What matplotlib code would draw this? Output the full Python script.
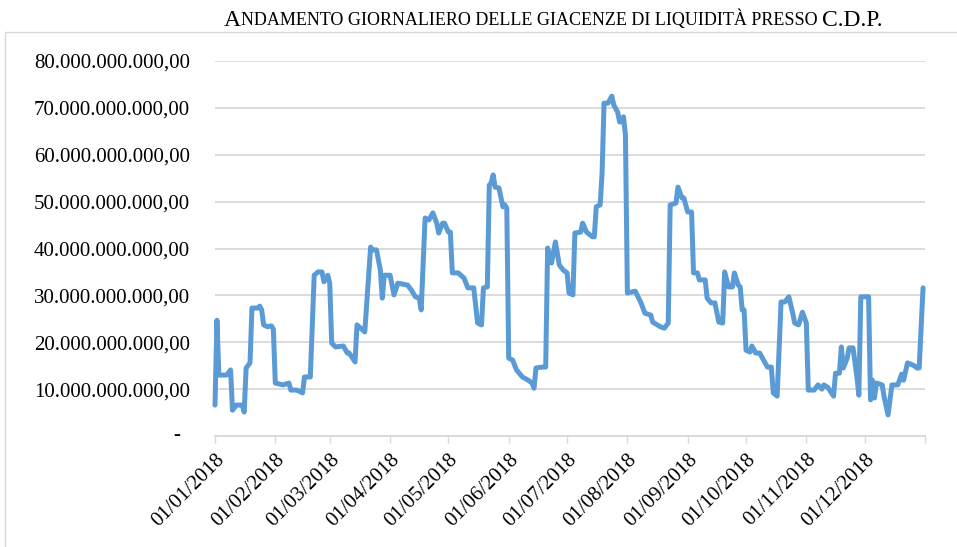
import numpy as np
import pandas as pd
import matplotlib
matplotlib.use("Agg")
import matplotlib.pyplot as plt
from matplotlib.patches import Rectangle
from matplotlib.offsetbox import TextArea, HPacker, AnnotationBbox
from matplotlib.ticker import FuncFormatter
from matplotlib.transforms import ScaledTranslation

# giorni dall'inizio del 2018 e giacenze in miliardi di euro
giorni = [0, 1, 2, 6, 8, 9, 11, 14, 15, 16, 18, 19, 22, 23, 24, 25, 27, 29, 30, 31,
          35, 38, 39, 42, 45, 46, 49, 51, 53, 55, 56, 58, 59, 60, 62, 66, 68, 69, 72, 73,
          76, 77, 80, 81, 83, 85, 86, 87, 90, 92, 94, 99, 101, 103, 105, 106, 108, 110, 112, 114,
          115, 117, 118, 120, 121, 122, 125, 128, 130, 133, 135, 137, 138, 140, 141, 142, 143, 144, 146, 148,
          149, 150, 151, 153, 155, 158, 161, 163, 164, 165, 168, 170, 171, 173, 175, 177, 179, 181, 182, 184,
          185, 188, 189, 191, 194, 195, 196, 198, 199, 200, 202, 204, 205, 207, 208, 209, 210, 211, 212, 216,
          217, 219, 221, 224, 225, 229, 231, 233, 234, 237, 238, 240, 241, 243, 245, 246, 248, 249, 252, 253,
          255, 257, 259, 261, 262, 264, 266, 267, 269, 270, 271, 272, 273, 275, 276, 278, 280, 282, 284, 286,
          287, 289, 291, 293, 295, 297, 298, 300, 302, 304, 305, 308, 310, 312, 313, 315, 318, 319, 321, 322,
          323, 325, 326, 328, 330, 331, 332, 336, 337, 338, 339, 340, 343, 344, 346, 348, 351, 353, 354, 356,
          359, 361, 362, 364]
giacenze_mld = [6.6, 24.7, 13.0, 13.0, 14.1, 5.5, 6.6, 6.6, 5.1, 14.5, 15.6, 27.3, 27.3, 27.7, 26.9, 23.7, 23.3, 23.5, 22.8, 11.3,
                10.9, 11.3, 9.8, 9.8, 9.2, 12.6, 12.6, 34.3, 35.0, 35.0, 32.9, 34.3, 32.5, 19.8, 19.0, 19.2, 17.7, 17.7, 15.8, 23.7,
                22.6, 22.2, 40.3, 39.7, 39.7, 35.4, 29.4, 34.3, 34.3, 30.1, 32.6, 32.2, 31.1, 29.7, 29.4, 26.9, 46.5, 46.1, 47.6, 45.4,
                43.3, 45.4, 45.4, 43.5, 43.5, 34.8, 34.8, 33.7, 31.6, 31.6, 24.1, 23.7, 31.6, 31.8, 53.5, 54.0, 55.7, 53.1, 52.9, 48.9,
                49.3, 48.6, 16.6, 16.2, 14.1, 12.6, 11.9, 11.3, 10.2, 14.5, 14.7, 14.7, 40.1, 36.9, 41.4, 36.5, 35.4, 34.8, 30.5, 30.1,
                43.3, 43.5, 45.4, 43.5, 42.5, 42.5, 48.9, 49.3, 56.1, 71.0, 71.0, 72.5, 70.6, 69.1, 67.0, 67.0, 68.1, 64.2, 30.5, 30.9,
                30.1, 28.4, 26.2, 25.8, 24.3, 23.3, 23.0, 24.1, 49.3, 49.7, 53.1, 50.8, 50.8, 47.8, 47.8, 34.8, 34.8, 33.3, 33.3, 29.4,
                28.4, 28.4, 24.3, 24.1, 35.0, 31.8, 31.8, 34.8, 32.2, 31.8, 26.9, 26.9, 18.3, 17.9, 19.2, 17.7, 17.7, 16.2, 14.7, 14.7,
                9.2, 8.5, 28.6, 28.6, 29.7, 26.2, 24.1, 23.7, 26.4, 24.1, 9.8, 9.8, 10.9, 10.0, 10.9, 10.4, 8.5, 13.4, 13.4, 19.0,
                14.5, 16.6, 18.8, 18.8, 12.6, 8.7, 29.7, 29.7, 7.7, 11.9, 8.1, 11.3, 10.9, 8.3, 4.5, 10.9, 10.9, 13.2, 11.9, 15.6,
                15.1, 14.5, 14.5, 31.6]

mesi = pd.date_range("2018-01-01", "2019-01-01", freq="MS")
etichette_mesi = [d.strftime("%d/%m/%Y") for d in mesi[:-1]] + [""]
y_ticks = np.arange(0, 81, 10) * 1e9

date = pd.Timestamp("2018-01-01") + pd.to_timedelta(giorni, unit="D")
valori = np.array(giacenze_mld) * 1e9

serif = ["Liberation Serif", "DejaVu Serif"]
plt.rcParams["font.family"] = serif

fig = plt.figure(figsize=(9.57, 5.47), dpi=100)
ax = fig.add_axes([215 / 957, 111 / 547, 710 / 957, 375 / 547])

ax.plot(date, valori, color="#5B9BD5", lw=3.6, solid_joinstyle="round",
        solid_capstyle="round", clip_on=False, zorder=3)

ax.set_xlim(mesi[0], mesi[-1])
ax.set_ylim(0, 80e9)
ax.set_xticks(mesi)
ax.set_xticklabels(etichette_mesi, rotation=45, ha="right", va="top",
                   rotation_mode="anchor", fontsize=15)
ax.set_yticks(y_ticks)

# piccolo spostamento a sinistra delle etichette ruotate
sposta = ScaledTranslation(-3 / 100, 0, fig.dpi_scale_trans)
for lab in ax.get_xticklabels():
    lab.set_transform(lab.get_transform() + sposta)


def fmt_it(v, pos):
    if v == 0:
        return ""
    s = f"{v:,.2f}"
    return s.replace(",", "X").replace(".", ",").replace("X", ".")


ax.yaxis.set_major_formatter(FuncFormatter(fmt_it))
ax.tick_params(axis="y", length=0, pad=18, labelsize=15)
ax.tick_params(axis="x", length=5, width=1, color="#D9D9D9", pad=5)
ax.text(-38 / 710, 0, "-", transform=ax.get_yaxis_transform(), ha="center",
        va="center", fontsize=15)

ax.grid(axis="y", color="#D9D9D9", lw=1.3)
ax.set_axisbelow(True)
for s in ["top", "right", "left"]:
    ax.spines[s].set_visible(False)
ax.spines["bottom"].set_color("#D9D9D9")
ax.spines["bottom"].set_linewidth(1.3)

# bordo dell'area del grafico
fig.patches.append(Rectangle((5 / 957, -0.05), 1.0, 1 - 32 / 547 + 0.05,
                             transform=fig.transFigure, fill=False,
                             edgecolor="#D9D9D9", lw=1))

# titolo in maiuscoletto
grande = dict(fontsize=17, family=serif)
piccolo = dict(fontsize=13, family=serif)
parte1 = HPacker(children=[TextArea("A", textprops=grande),
                           TextArea("NDAMENTO GIORNALIERO DELLE GIACENZE DI LIQUIDITÀ PRESSO", textprops=piccolo)],
                 align="baseline", pad=0, sep=0)
titolo = HPacker(children=[parte1, TextArea("C.D.P.", textprops=grande)],
                 align="baseline", pad=0, sep=3)
fig.add_artist(AnnotationBbox(titolo, (553 / 957, 1 - 20 / 547), xycoords="figure fraction",
                              box_alignment=(0.5, 0.5), frameon=False, pad=0))

fig.savefig("out.png", dpi=100)
